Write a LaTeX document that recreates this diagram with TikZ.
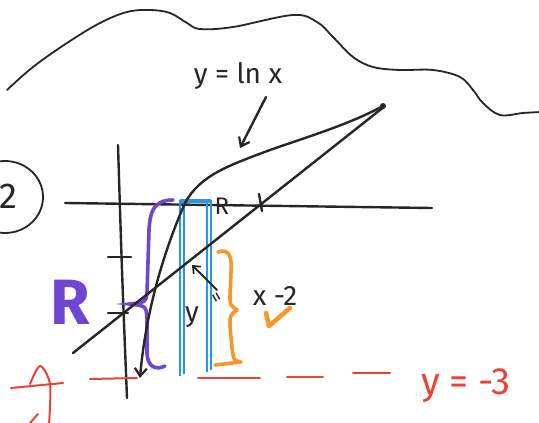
\documentclass[tikz,border=0pt]{standalone}
\usepackage{fontspec}
\setmainfont{Fira Sans}
\usetikzlibrary{arrows.meta}
\definecolor{skyb}{RGB}{40,150,230}
\definecolor{purp}{RGB}{110,70,210}
\definecolor{orng}{RGB}{248,150,40}
\definecolor{redd}{RGB}{235,65,55}
\tikzset{
  ink/.style={line width=2.4pt, line cap=round, line join=round, black!85},
  thinink/.style={line width=1.8pt, line cap=round, black!85},
  bluestroke/.style={line width=1.4pt, skyb},
  purpstroke/.style={line width=3.6pt, purp, line cap=round},
  orngstroke/.style={line width=3.6pt, orng, line cap=round, line join=round},
  redstroke/.style={line width=2pt, redd, line cap=round},
  barb/.style={-{Straight Barb[length=8pt,width=12pt,line width=2.2pt]}},
  lbl/.style={inner sep=0pt, text=black!85}
}
\begin{document}
\begin{tikzpicture}[x=1pt,y=-1pt]
\useasboundingbox (0,0) rectangle (539,423);
\clip (0,0) rectangle (539,423);
\fill[white] (0,0) rectangle (539,423);
% cloud outline
\draw[thinink] plot[smooth, tension=0.6] coordinates {(7,90) (33,67) (67,43) (100,23) (127,12) (150,10) (170,13) (187,23) (200,29) (233,27) (293,15) (317,22) (333,37) (353,57) (373,67) (400,70) (433,70) (460,77) (473,90) (483,103) (500,115) (523,113) (541,112)};
% circled 2
\draw[thinink] (5,197) ellipse [x radius=38, y radius=36];
\node[lbl, font=\fontsize{36}{40}\selectfont] (two) at (8,196) {2};
% axes
\draw[ink] (65,203) -- (432,208);
\draw[ink] plot[smooth] coordinates {(118,145) (122,270) (127,398)};
\draw[ink] (108,257) -- (131,257);
\draw[ink] (108,313) -- (128,313);
\draw[ink] (259,194) -- (262,211);
% blue strips
\draw[bluestroke] (180,200) -- (180,376);
\draw[bluestroke] (184,200) -- (184,374);
\draw[bluestroke] (207,200) -- (207,372);
\draw[bluestroke] (211,200) -- (211,370);
\draw[skyb, line width=4pt] (180,201) -- (211,201);
% purple brace
\draw[purpstroke] (173,200) .. controls (152,200) and (150,214) .. (149,230) -- (147,293) .. controls (146,302) .. (130,304) .. controls (146,306) .. (147,318) -- (147,354) .. controls (148,368) and (157,370) .. (165,366);
\node[lbl, text=purp, font=\fontsize{64}{70}\selectfont\bfseries] (bigR) at (70,302) {R};
% orange brace
\draw[orngstroke] (218,252) .. controls (230,248) and (232,258) .. (231,272) -- (230,296) .. controls (230,305) .. (237,310) .. controls (230,315) .. (230,326) -- (232,348) .. controls (234,361) .. (241,362) -- (215,365);
\draw[orngstroke, line width=4.5pt] (266,313) -- (269,326) -- (290,308);
% line y = x - 2
\draw[ink] (73,353) -- (385,106);
% ln curve
\draw[ink, barb] (383,106) .. controls (350,124) and (310,136) .. (270,150) .. controls (230,165) and (200,175) .. (185,203) .. controls (160,260) and (145,320) .. (140,378);
\fill[black!85] (383,106) circle (3);
% labels
\node[lbl, font=\fontsize{28}{32}\selectfont] (lnlabel) at (238,76) {y = ln x};
\coordinate (lnarrowtail) at (266,97);
\coordinate (lnarrowhead) at (240,148);
\draw[ink, barb] (lnarrowtail) -- (lnarrowhead);
\node[lbl, font=\fontsize{24}{28}\selectfont] (smallR) at (222,206) {R};
\coordinate (caret tail) at (217,290);
\coordinate (caret head) at (192,265);
\draw[thinink, -{Straight Barb[length=6pt,width=10pt,line width=1.8pt]}] (caret tail) -- (caret head);
\node[lbl, font=\fontsize{28}{32}\selectfont] (ylin) at (192,317) {y};
\node[lbl, font=\fontsize{20}{24}\selectfont, rotate=-60] (eqlin) at (215,298) {=};
\node[lbl, font=\fontsize{28}{32}\selectfont] (xlin) at (275,296) {x -2};
% red dashed line y=-3
\draw[redstroke] (90,379) -- (137,378);
\draw[redstroke] (198,378) -- (260,378);
\draw[redstroke] (287,377) -- (323,377);
\draw[redstroke] (353,373) -- (390,373);
\node[lbl, text=redd, font=\fontsize{38}{42}\selectfont] (yeq) at (466,386) {y = -3};
% red partial letter at bottom left
\draw[redstroke] (11,388) -- (63,383);
\draw[redstroke] plot[smooth] coordinates {(30,384) (40,366) (50,384) (49,425)};
\draw[redstroke] (30,423) -- (38,414);
\end{tikzpicture}
\end{document}
